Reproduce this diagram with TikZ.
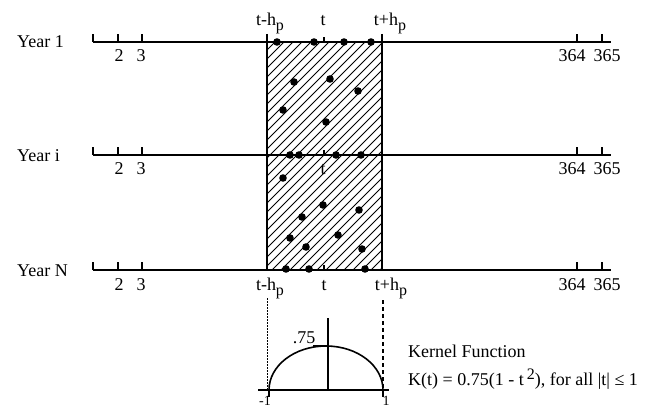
\documentclass[tikz,border=0pt]{standalone}
\usepackage{fontspec}
\setmainfont{Liberation Serif}
\usetikzlibrary{positioning}
\newcommand{\hp}{h\raisebox{-5pt}{\fontsize{16}{16}\selectfont p}}

\begin{document}
\begin{tikzpicture}[x=1pt,y=-1pt,
  every node/.style={font=\fontsize{18}{21}\selectfont,inner sep=0pt},
  yearline/.style={line width=1.7pt},
  tickmark/.style={line width=1.4pt},
  hatch/.style={line width=0.9pt},
  obs/.style={fill=black},
  kcurve/.style={line width=1.6pt}]
  \useasboundingbox (0,0) rectangle (656,409);
  % hatched window from t-h_p to t+h_p
  \begin{scope}
    \clip (267,42) rectangle (382,270);
    \foreach \k in {0,...,39}
      \draw[hatch] (38+9*\k,270) -- ++(232,-232);
  \end{scope}
  \draw[line width=1.7pt] (267,34) -- (267,270) (382,34) -- (382,270);
  % the three years
  \foreach \yy/\nm/\txt in {42/one/Year 1,155/mid/Year i,270/last/Year N}{
    \coordinate (\nm-s) at (93,\yy);
    \coordinate (\nm-e) at (611,\yy);
    \draw[yearline] (\nm-s) -- (\nm-e);
    \foreach \tx in {93,118,142,577,602}
      \draw[tickmark] (\tx,\yy) -- ++(0,-8);
    \draw[tickmark] (324,\yy) -- ++(0,-5);
    \node[anchor=base west] (\nm-lbl) at (17,\yy+6) {\txt};
    \node[anchor=base] (\nm-d2) at (119,\yy+20) {2};
    \node[anchor=base] (\nm-d3) at (141,\yy+20) {3};
    \node[anchor=base] (\nm-d364) at (572,\yy+20) {364};
    \node[anchor=base] (\nm-d365) at (607,\yy+20) {365};
  }
  % observations
  \foreach \dx/\dy in {277/42,314/42,344/42,371/42,
      294/82,330/79,358/91,283/110,326/122,
      290/155,299/155,336/155,361/155,
      283/178,323/205,359/210,302/217,290/238,338/235,306/247,362/249,
      286/269,309/269,365/269}
    \fill[obs] (\dx,\dy) circle (3.8pt);
  % window labels
  \node[anchor=base] (top-lo) at (270,26) {t-\hp};
  \node[anchor=base] (top-t) at (323,26) {t};
  \node[anchor=base] (top-hi) at (390,26) {t+\hp};
  \node[anchor=base] (mid-t) at (323,175) {t};
  \node[anchor=base] (bot-lo) at (270,290) {t-\hp};
  \node[anchor=base] (bot-t) at (324,290) {t};
  \node[anchor=base] (bot-hi) at (391,290) {t+\hp};
  % kernel
  \coordinate (k-l) at (258,390);
  \coordinate (k-r) at (389,390);
  \coordinate (k-top) at (328,318);
  \coordinate (k-base) at (328,390);
  \draw[kcurve] (k-l) -- (k-r);
  \draw[kcurve] (k-top) -- (k-base);
  \draw[kcurve] (269,390) arc[start angle=180,end angle=360,x radius=57,y radius=44];
  \draw[line width=2.5pt] (313,346) -- (328,346);
  \draw[tickmark] (269,390) -- ++(0,7) (383,390) -- ++(0,7);
  \draw[dash pattern=on 1.5pt off 1.5pt,line width=0.8pt] (267,298) -- (267,390);
  \draw[dash pattern=on 4pt off 3pt,line width=1.4pt] (383,300) -- (383,392);
  \node[anchor=base] (k-75) at (304,343) {.75};
  \node[anchor=base,font=\fontsize{14}{14}\selectfont] (k-m1) at (265,405) {-1};
  \node[anchor=base,font=\fontsize{14}{14}\selectfont] (k-p1) at (386,405) {1};
  \node[anchor=base west] (k-name) at (408,357) {Kernel Function};
  \node[anchor=base west] (k-form) at (408,385)
    {K(t) = 0.75(1 - t\,\raisebox{6pt}{\fontsize{16}{16}\selectfont 2}), for all |t| ≤ 1};
\end{tikzpicture}
\end{document}
